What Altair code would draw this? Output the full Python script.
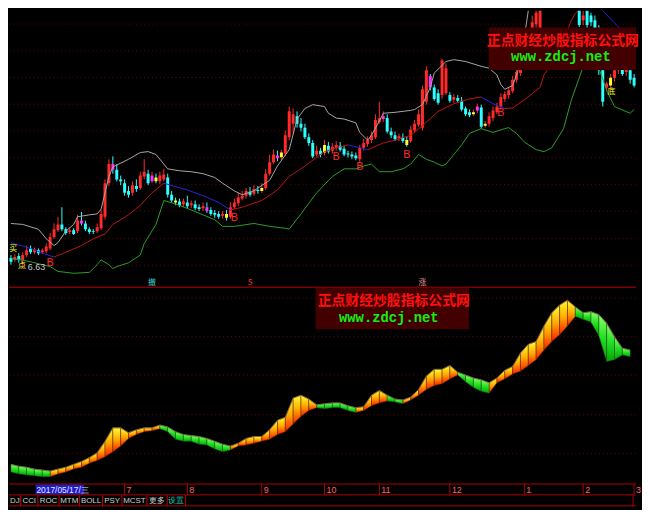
import altair as alt
import pandas as pd

# ---------------- layout ----------------
W = 634
H_TOP, H_BOT, H_DATE, H_BTN = 280, 198, 12, 11
N = 160
XDOM = [-0.5, N - 0.5]
PRICE_DOM = [6.22, 12.0]
IND_DOM = [-2, 100]

# ---------------- candles (price) ----------------
opens = [6.84, 6.80, 6.88, 6.80, 6.90, 7.04, 6.96, 7.00, 6.96, 6.98,
         7.04, 7.28, 7.42, 7.54, 7.44, 7.38, 7.42, 7.40, 7.62, 7.56,
         7.44, 7.40, 7.40, 7.46, 7.70, 8.40, 8.80, 8.68, 8.48, 8.40,
         8.24, 8.20, 8.34, 8.30, 8.54, 8.60, 8.44, 8.52, 8.44, 8.48,
         8.52, 8.16, 8.04, 8.02, 7.96, 8.00, 7.94, 7.96, 7.90, 7.88,
         7.90, 7.84, 7.78, 7.76, 7.72, 7.76, 7.70, 7.90, 7.98, 8.08,
         8.14, 8.22, 8.18, 8.26, 8.24, 8.30, 8.60, 8.84, 8.98, 8.94,
         9.02, 9.36, 9.64, 9.80, 9.64, 9.56, 9.36, 9.24, 9.00, 9.08,
         9.04, 9.18, 9.08, 9.14, 9.18, 9.12, 9.02, 9.00, 8.98, 8.90,
         9.14, 9.22, 9.30, 9.36, 9.68, 9.74, 9.76, 9.48, 9.40, 9.34,
         9.36, 9.30, 9.28, 9.50, 9.62, 9.56, 10.10, 10.64, 10.40, 10.28,
         10.24, 10.28, 10.24, 10.14, 10.18, 10.12, 9.96, 9.88, 9.84, 9.92,
         9.98, 9.60, 9.64, 9.76, 9.88, 10.00, 10.16, 10.24, 10.32, 10.56,
         10.70, 10.84, 11.04, 11.40, 11.72, 11.60, 12.30, 12.56, 12.80, 12.70,
         13.00, 12.90, 13.10, 12.80, 12.60, 12.50, 11.80, 12.00, 11.90, 11.80,
         11.60, 10.76, 10.40, 10.44, 10.60, 10.76, 10.80, 10.72, 10.76, 10.60]
closes = [6.76, 6.86, 6.80, 6.90, 7.00, 6.96, 7.02, 6.94, 7.00, 7.08,
          7.28, 7.44, 7.54, 7.44, 7.36, 7.42, 7.34, 7.62, 7.56, 7.44,
          7.38, 7.38, 7.48, 7.76, 8.40, 8.80, 8.68, 8.48, 8.44, 8.20,
          8.16, 8.36, 8.28, 8.56, 8.64, 8.40, 8.56, 8.44, 8.56, 8.58,
          8.16, 8.04, 8.00, 7.94, 8.02, 7.92, 7.98, 7.88, 7.86, 7.92,
          7.82, 7.76, 7.74, 7.70, 7.76, 7.68, 7.90, 8.00, 8.10, 8.14,
          8.24, 8.16, 8.28, 8.24, 8.30, 8.60, 8.84, 9.00, 8.92, 9.04,
          9.40, 9.90, 9.84, 9.64, 9.56, 9.36, 9.24, 8.96, 9.08, 9.00,
          9.20, 9.06, 9.16, 9.20, 9.10, 9.00, 9.00, 8.96, 8.92, 9.14,
          9.24, 9.30, 9.40, 9.72, 9.76, 9.80, 9.48, 9.40, 9.32, 9.38,
          9.28, 9.20, 9.52, 9.64, 9.84, 10.36, 10.76, 10.40, 10.16, 10.08,
          10.96, 10.80, 10.12, 10.20, 10.12, 9.94, 9.84, 9.82, 9.88, 10.00,
          9.58, 9.64, 9.80, 9.92, 10.00, 10.20, 10.26, 10.34, 10.56, 10.72,
          10.84, 11.00, 11.40, 11.76, 11.96, 12.40, 12.60, 12.80, 12.70, 13.00,
          12.90, 13.10, 12.80, 12.60, 12.70, 11.70, 11.90, 11.70, 11.76, 11.64,
          10.76, 10.10, 10.48, 10.60, 10.76, 10.84, 10.68, 10.80, 10.56, 10.44]
highs = [6.90, 6.92, 6.94, 6.96, 7.10, 7.10, 7.06, 7.04, 7.04, 7.14,
         7.36, 7.56, 7.70, 7.90, 7.48, 7.48, 7.46, 7.74, 7.80, 7.62,
         7.48, 7.44, 7.56, 7.84, 8.48, 8.90, 8.96, 8.80, 8.56, 8.48,
         8.34, 8.44, 8.48, 8.64, 8.90, 8.68, 8.64, 8.60, 8.64, 8.70,
         8.60, 8.24, 8.10, 8.08, 8.08, 8.14, 8.04, 8.04, 7.96, 8.00,
         8.00, 7.90, 7.84, 7.82, 7.82, 7.84, 8.00, 8.08, 8.20, 8.24,
         8.30, 8.32, 8.36, 8.34, 8.40, 8.70, 9.00, 9.10, 9.08, 9.10,
         9.50, 10.00, 9.96, 9.90, 9.76, 9.64, 9.44, 9.30, 9.18, 9.14,
         9.30, 9.26, 9.24, 9.28, 9.26, 9.18, 9.08, 9.06, 9.04, 9.20,
         9.32, 9.38, 9.48, 9.84, 10.10, 9.90, 9.84, 9.56, 9.48, 9.44,
         9.44, 9.38, 9.60, 9.72, 9.94, 10.44, 10.84, 10.68, 10.46, 10.36,
         11.00, 10.90, 10.30, 10.26, 10.24, 10.20, 10.00, 9.94, 9.94, 10.06,
         10.04, 9.70, 9.88, 10.00, 10.08, 10.28, 10.32, 10.40, 10.64, 10.80,
         10.90, 11.10, 11.60, 11.90, 12.20, 12.60, 12.80, 13.00, 12.96, 13.10,
         13.16, 13.24, 13.20, 12.90, 12.80, 12.60, 12.00, 12.10, 11.96, 11.90,
         11.70, 10.84, 10.52, 10.68, 10.84, 10.90, 10.86, 10.86, 10.80, 10.68]
lows = [6.70, 6.76, 6.74, 6.63, 6.86, 6.92, 6.92, 6.90, 6.92, 6.94,
        7.00, 7.24, 7.38, 7.40, 7.32, 7.34, 7.32, 7.36, 7.52, 7.40,
        7.34, 7.34, 7.36, 7.42, 7.64, 8.34, 8.60, 8.44, 8.36, 8.14,
        8.10, 8.14, 8.22, 8.26, 8.48, 8.36, 8.40, 8.40, 8.38, 8.44,
        8.10, 8.00, 7.94, 7.90, 7.90, 7.88, 7.88, 7.84, 7.82, 7.82,
        7.78, 7.72, 7.68, 7.66, 7.66, 7.62, 7.66, 7.86, 7.92, 8.04,
        8.08, 8.12, 8.14, 8.18, 8.20, 8.26, 8.56, 8.80, 8.86, 8.88,
        8.96, 9.30, 9.44, 9.56, 9.48, 9.32, 9.18, 8.92, 8.96, 8.94,
        8.98, 9.02, 9.02, 9.08, 9.06, 8.96, 8.94, 8.90, 8.88, 8.84,
        9.08, 9.16, 9.24, 9.32, 9.64, 9.68, 9.44, 9.34, 9.28, 9.28,
        9.24, 9.16, 9.24, 9.46, 9.58, 9.50, 10.04, 10.34, 10.12, 10.04,
        10.16, 10.24, 10.08, 10.08, 10.08, 9.90, 9.80, 9.78, 9.80, 9.86,
        9.54, 9.56, 9.58, 9.70, 9.84, 9.94, 10.10, 10.16, 10.28, 10.50,
        10.64, 10.76, 11.00, 11.34, 11.64, 11.56, 12.20, 12.50, 12.60, 12.60,
        12.80, 12.80, 12.70, 12.50, 12.50, 11.66, 11.70, 11.64, 11.68, 11.56,
        10.66, 10.00, 10.32, 10.36, 10.52, 10.68, 10.64, 10.64, 10.48, 10.40]

# signal-coloured candles (index, kind)
sig_idx = [18, 26, 36, 37, 42, 50, 55, 64, 68, 69, 80, 95, 101, 107, 118, 119, 121, 153]
sig_kind = ["mag", "mag", "mag", "yel", "yel", "mag", "yel", "yel", "mag", "yel",
            "yel", "mag", "yel", "mag", "yel", "mag", "yel", "yel"]

# Bollinger bands (index, price)
upper_band = [(0, 7.56), (3, 7.54), (7, 7.44), (9, 7.24), (11, 7.10), (12, 7.16), (14, 7.40),
              (16, 7.54), (17, 7.70), (20, 7.74), (22, 7.76), (23, 7.86), (25, 8.54), (26, 8.74),
              (30, 8.90), (33, 9.04), (35, 9.06), (37, 9.00), (39, 8.80), (40, 8.70), (43, 8.66),
              (46, 8.64), (49, 8.60), (52, 8.52), (54, 8.40), (57, 8.24), (59, 8.16), (62, 8.24),
              (63, 8.30), (66, 8.46), (68, 8.76), (71, 9.10), (73, 9.74), (75, 9.96), (77, 10.04),
              (80, 10.00), (81, 9.86), (83, 9.76), (85, 9.74), (88, 9.66), (89, 9.46), (91, 9.30),
              (92, 9.40), (94, 9.70), (95, 9.86), (98, 9.88), (102, 9.92), (103, 9.94), (105, 10.04),
              (107, 10.40), (108, 10.70), (111, 10.94), (113, 10.98), (116, 10.94), (120, 10.84),
              (122, 10.80), (124, 10.66), (125, 10.46), (126, 10.36), (128, 10.44), (129, 10.66),
              (130, 10.90), (132, 12.00), (134, 12.80), (140, 13.60), (150, 13.80), (159, 13.40)]
middle_band = [(0, 7.16), (5, 7.04), (8, 6.94), (11, 6.86), (14, 6.96), (18, 7.10), (21, 7.24),
               (24, 7.34), (26, 7.54), (30, 7.74), (33, 7.94), (36, 8.20), (39, 8.40), (45, 8.26),
               (49, 8.14), (53, 8.00), (56, 7.84), (59, 7.90), (64, 8.04), (68, 8.26), (71, 8.54),
               (75, 8.76), (78, 8.94), (80, 9.06), (84, 9.16), (86, 9.20), (89, 9.14), (91, 9.10),
               (95, 9.24), (98, 9.30), (102, 9.40), (105, 9.60), (109, 9.90), (113, 10.06),
               (117, 10.16), (120, 10.20), (123, 10.06), (126, 9.96), (128, 9.97), (131, 10.14),
               (135, 10.40), (136, 10.66), (138, 10.90), (141, 11.40), (143, 11.80), (144, 11.94),
               (148, 12.30), (151, 12.00), (155, 11.66), (159, 11.36)]
lower_band = [(0, 6.84), (5, 6.76), (10, 6.66), (12, 6.56), (16, 6.52), (20, 6.54), (22, 6.70),
              (23, 6.80), (25, 6.70), (26, 6.62), (27, 6.66), (30, 6.74), (33, 6.90), (34, 7.14),
              (37, 7.54), (39, 8.04), (43, 7.94), (46, 7.84), (49, 7.74), (52, 7.64), (54, 7.50),
              (57, 7.50), (62, 7.56), (66, 7.50), (70, 7.46), (71, 7.44), (74, 7.76), (78, 8.20),
              (82, 8.54), (85, 8.70), (88, 8.70), (90, 8.76), (92, 8.80), (94, 8.64), (97, 8.64),
              (100, 8.70), (102, 8.80), (104, 9.00), (106, 8.90), (108, 8.84), (110, 8.76),
              (111, 8.80), (113, 9.00), (115, 9.20), (117, 9.44), (120, 9.54), (123, 9.46),
              (126, 9.54), (127, 9.56), (129, 9.44), (131, 9.26), (134, 9.10), (136, 9.06),
              (138, 9.14), (141, 9.54), (143, 10.14), (145, 10.60), (146, 10.84), (148, 11.20),
              (150, 10.80), (152, 10.34), (154, 10.00), (158, 9.86), (159, 9.94)]

# "B" buy markers (index, price)
b_idx = [10, 57, 83, 89, 101, 125]
b_price = [6.74, 7.68, 8.94, 8.74, 8.98, 9.86]
low_label = "6.63"
# small signal glyphs (index, price, text, kind)
glyphs = [(0.6, 7.02, "买", "yel"), (2.8, 6.68, "点", "yel"), (153.2, 10.30, "底", "yel"),
          (36, 6.32, "撤", "cya"), (61, 6.32, "S", "red"), (105, 6.32, "涨", "pnk")]

# grid levels
grid_top = [11.74, 11.18, 10.62, 10.06, 9.50, 8.94, 8.38, 7.82, 7.26, 6.70]
grid_bot = [14, 34, 54.5, 75, 95]

# ---------------- lower indicator (every 2nd bar) ----------------
ind_idx = list(range(0, 160, 2))
ind_top = [8, 7, 6.5, 5.5, 5, 4.5, 5.5, 6.5, 8, 9.5,
           11.5, 14, 20, 27, 27, 24.5, 26, 27, 27, 28.5,
           27.5, 25, 23.5, 23, 22.5, 21.5, 20, 18.5, 17.5, 19,
           21.5, 22.5, 22.5, 26, 31, 32.5, 42.5, 44, 42, 39,
           39.5, 40, 40, 38.5, 37.5, 38, 44, 46.5, 44, 42,
           41.5, 43, 47, 54, 57.5, 57.5, 59.5, 56, 54.5, 53,
           52, 50.5, 53, 57, 59, 66, 70.5, 72, 80, 87,
           91, 93.5, 90, 87, 87.5, 86, 81.5, 74.5, 68.5, 67.5]
ind_bot = [4, 3, 2.5, 2, 1.5, 1.5, 3, 4, 5.5, 6.5,
           8.5, 10, 12, 14.5, 17.5, 21.5, 23.5, 25, 25.5, 26.5,
           25, 21, 20, 20, 18.5, 18, 16, 14.5, 15.5, 17.5,
           18, 19, 20, 21, 23.5, 25, 29, 33, 36, 37.5,
           37, 37.5, 37.5, 36, 35, 36, 38.5, 40, 41, 40.5,
           39.5, 41.5, 44, 47, 49, 50, 52.5, 54.5, 51, 48,
           46, 45, 50.5, 52.5, 55, 56.5, 59.5, 62.5, 67.5, 72,
           75.5, 80, 85, 83.5, 82, 75, 61.5, 62.5, 65, 64]
ind_dir = "".join(["GGGGGG", "OOOOOOOOOOOOOO", "GGGGGGGGG", "OOOOOOOOOOO", "GGGGG",
                   "OOOO", "GG", "OOOOOOO", "GGGG", "OOOOOOOOOOO", "GGGGGGG"])

# ---------------- axis texts ----------------
month_idx = [29, 45, 64, 80, 94, 112, 131, 146, 159]
month_lab = ["7", "8", "9", "10", "11", "12", "1", "2", "3"]
cursor_date = "2017/05/17/三"
buttons = ["DJ", "CCI", "ROC", "MTM", "BOLL", "PSY", "MCST", "更多", "设置"]
BUTTON_W = [12, 18, 22, 21, 24, 20, 26, 21, 19]
WM_CN = "正点财经炒股指标公式网"
WM_URL = "www.zdcj.net"

# ================= build =================
df = pd.DataFrame({"i": list(range(N)), "o": opens, "c": closes, "h": highs, "l": lows})
df["d"] = ["up" if c >= o else "dn" for o, c in zip(opens, closes)]
kind = dict(zip(sig_idx, sig_kind))
df["k"] = [kind.get(i, d) for i, d in zip(df["i"], df["d"])]
df["x0"] = df["i"] - 0.38
df["x1"] = df["i"] + 0.38

xs = alt.Scale(domain=XDOM, nice=False, zero=False)
ys = alt.Scale(domain=PRICE_DOM, nice=False, zero=False)
yax = alt.Axis(values=grid_top, grid=True, gridColor="#6e0000", gridDash=[1, 3], gridWidth=1,
               labels=False, ticks=False, domain=False, title=None)
cscale = alt.Scale(domain=["up", "dn", "yel", "mag", "cya", "red", "pnk"],
                   range=["#ff2a2a", "#2cffff", "#ffff30", "#ff30ff", "#40c8c8", "#ff3030", "#e09090"])
one = pd.DataFrame({"a": [0]})

wick = alt.Chart(df).mark_rule(strokeWidth=1, clip=True).encode(
    x=alt.X("i:Q", scale=xs, axis=None),
    y=alt.Y("l:Q", scale=ys, axis=yax), y2="h:Q",
    color=alt.Color("d:N", scale=cscale, legend=None))
body = alt.Chart(df).mark_rect(clip=True).encode(
    x=alt.X("x0:Q", scale=xs, axis=None), x2="x1:Q",
    y=alt.Y("o:Q", scale=ys, axis=yax), y2="c:Q",
    color=alt.Color("k:N", scale=cscale, legend=None))


def band_line(pairs, color):
    d = pd.DataFrame(pairs, columns=["i", "v"])
    return alt.Chart(d).mark_line(clip=True, strokeWidth=1, color=color).encode(
        x=alt.X("i:Q", scale=xs, axis=None), y=alt.Y("v:Q", scale=ys, axis=yax))


rows = []
for k in range(len(middle_band) - 1):
    (i0, v0), (i1, v1) = middle_band[k], middle_band[k + 1]
    d = "r" if v1 >= v0 else "b"
    rows += [{"seg": k, "i": i0, "v": v0, "d": d}, {"seg": k, "i": i1, "v": v1, "d": d}]
mid_df = pd.DataFrame(rows)


def mid_layer(dirn, color):
    return alt.Chart(mid_df).transform_filter(alt.datum.d == dirn).mark_line(
        clip=True, strokeWidth=1, color=color).encode(
        x=alt.X("i:Q", scale=xs, axis=None), y=alt.Y("v:Q", scale=ys, axis=yax),
        detail="seg:N")


bdf = pd.DataFrame({"i": b_idx, "p": b_price, "t": ["B"] * len(b_idx)})
b_text = alt.Chart(bdf).mark_text(color="#ff2a2a", fontSize=11, font="Liberation Sans").encode(
    x=alt.X("i:Q", scale=xs, axis=None), y=alt.Y("p:Q", scale=ys, axis=yax), text="t:N")

low_df = pd.DataFrame({"i": [4.3], "p": [6.66], "t": [low_label]})
low_text = alt.Chart(low_df).mark_text(color="#c8c8c8", fontSize=9, align="left",
                                       font="Liberation Sans").encode(
    x=alt.X("i:Q", scale=xs, axis=None), y=alt.Y("p:Q", scale=ys, axis=yax), text="t:N")

gdf = pd.DataFrame(glyphs, columns=["i", "p", "t", "k"])
g_text = alt.Chart(gdf).mark_text(fontSize=8, font="Noto Sans CJK SC").encode(
    x=alt.X("i:Q", scale=xs, axis=None), y=alt.Y("p:Q", scale=ys, axis=yax), text="t:N",
    color=alt.Color("k:N", scale=cscale, legend=None))

sep = alt.Chart(one).mark_rule(color="#c00000", strokeWidth=1).encode(
    x=alt.value(0), x2=alt.value(W), y=alt.value(H_TOP - 0.5))

wm1_box = alt.Chart(one).mark_rect(color="#420000").encode(
    x=alt.value(485), x2=alt.value(W), y=alt.value(17), y2=alt.value(60))
wm1_cn = alt.Chart(one).mark_text(text=WM_CN, color="#ff1010", fontSize=14,
                                  font="Noto Sans CJK SC", fontWeight="bold").encode(
    x=alt.value(560), y=alt.value(31))
wm1_url = alt.Chart(one).mark_text(text=WM_URL, color="#10f010", fontSize=14,
                                   font="Liberation Mono", fontWeight="bold").encode(
    x=alt.value(558), y=alt.value(47))

top = alt.layer(
    wick, body,
    band_line(upper_band, "#a8a8a8"),
    mid_layer("r", "#c01414"), mid_layer("b", "#2424e0"),
    band_line(lower_band, "#2aa02a"),
    b_text, low_text, g_text, sep, wm1_box, wm1_cn, wm1_url,
).properties(width=W, height=H_TOP)

# ---------------- indicator panel ----------------
seg_rows = []
for k in range(len(ind_idx) - 1):
    d = ind_dir[k + 1]
    for j in (k, k + 1):
        seg_rows.append({"seg": k, "i": ind_idx[j], "t": ind_top[j], "b": ind_bot[j], "d": d})
ind_seg = pd.DataFrame(seg_rows)
ind = pd.DataFrame({"i": ind_idx, "t": ind_top, "b": ind_bot})

vs = alt.Scale(domain=IND_DOM, nice=False, zero=False)
vax = alt.Axis(values=grid_bot, grid=True, gridColor="#6e0000", gridDash=[1, 3], gridWidth=1,
               labels=False, ticks=False, domain=False, title=None)

grad_o = alt.Gradient(gradient="linear", x1=0, x2=0, y1=0, y2=1,
                      stops=[alt.GradientStop(color="#ffff30", offset=0),
                             alt.GradientStop(color="#ffa800", offset=0.5),
                             alt.GradientStop(color="#ff1a00", offset=1)])
grad_g = alt.Gradient(gradient="linear", x1=0, x2=0, y1=0, y2=1,
                      stops=[alt.GradientStop(color="#8cff6a", offset=0),
                             alt.GradientStop(color="#22e022", offset=0.5),
                             alt.GradientStop(color="#00a800", offset=1)])


def ind_layer(dirn, grad, stroke):
    return alt.Chart(ind_seg).transform_filter(alt.datum.d == dirn).mark_area(
        color=grad, stroke=stroke, strokeWidth=0.6, strokeOpacity=0.85).encode(
        x=alt.X("i:Q", scale=xs, axis=None),
        y=alt.Y("t:Q", scale=vs, axis=vax), y2="b:Q", detail="seg:N")


edge = alt.Chart(ind).mark_line(color="#8a7050", strokeWidth=0.8).encode(
    x=alt.X("i:Q", scale=xs, axis=None), y=alt.Y("t:Q", scale=vs, axis=vax))

wm2_box = alt.Chart(one).mark_rect(color="#420000").encode(
    x=alt.value(310), x2=alt.value(465), y=alt.value(0), y2=alt.value(42))
wm2_cn = alt.Chart(one).mark_text(text=WM_CN, color="#ff1010", fontSize=14,
                                  font="Noto Sans CJK SC", fontWeight="bold").encode(
    x=alt.value(389), y=alt.value(14))
wm2_url = alt.Chart(one).mark_text(text=WM_URL, color="#10f010", fontSize=14,
                                   font="Liberation Mono", fontWeight="bold").encode(
    x=alt.value(384), y=alt.value(31))

bottom = alt.layer(ind_layer("O", grad_o, "#5a2800"), ind_layer("G", grad_g, "#1a4a1a"), edge,
                   wm2_box, wm2_cn, wm2_url).properties(width=W, height=H_BOT)

# ---------------- date row ----------------
mdf = pd.DataFrame({"i": month_idx, "t": month_lab})
frame_d = alt.Chart(pd.DataFrame({"y": [0.5, H_DATE - 0.5]})).mark_rule(color="#b00000").encode(
    x=alt.value(0), x2=alt.value(W), y=alt.Y("y:Q", scale=None))
mrules = alt.Chart(mdf).mark_rule(color="#b00000").encode(
    x=alt.X("i:Q", scale=xs, axis=None), y=alt.value(0), y2=alt.value(H_DATE))
mtext = alt.Chart(mdf).mark_text(color="#ff6060", fontSize=9, align="left", dx=2,
                                 font="Liberation Sans").encode(
    x=alt.X("i:Q", scale=xs, axis=None), y=alt.value(H_DATE / 2 + 0.5), text="t:N")
cur_box = alt.Chart(pd.DataFrame({"a": [6.3], "b": [18.6]})).mark_rect(color="#1c1cc8").encode(
    x=alt.X("a:Q", scale=xs, axis=None), x2="b:Q", y=alt.value(1), y2=alt.value(H_DATE - 1))
cur_text = alt.Chart(pd.DataFrame({"a": [6.5], "t": [cursor_date]})).mark_text(
    color="#e8e8ff", fontSize=8.5, align="left", font="Liberation Sans").encode(
    x=alt.X("a:Q", scale=xs, axis=None), y=alt.value(H_DATE / 2 + 0.5), text="t:N")
date_row = alt.layer(cur_box, frame_d, mrules, mtext, cur_text).properties(width=W, height=H_DATE)

# ---------------- button row ----------------
ends, acc = [], 0
for w in BUTTON_W:
    acc += w
    ends.append(acc)
starts = [e - w for e, w in zip(ends, BUTTON_W)]
btn = pd.DataFrame({"lab": buttons, "x0": starts, "x1": ends})
btn["xm"] = (btn["x0"] + btn["x1"]) / 2
bx = alt.Scale(domain=[0, 650], nice=False, zero=False)
bsep = alt.Chart(btn).mark_rule(color="#c00000", strokeWidth=1).encode(
    x=alt.X("x1:Q", scale=bx, axis=None), y=alt.value(0), y2=alt.value(H_BTN))
btxt = alt.Chart(btn).mark_text(fontSize=8, font="Liberation Sans").encode(
    x=alt.X("xm:Q", scale=bx, axis=None), y=alt.value(H_BTN / 2 + 0.5), text="lab:N",
    color=alt.condition(alt.datum.lab == "设置", alt.value("#20c8b0"), alt.value("#d0d0d0")))
bframe = alt.Chart(one).mark_rule(color="#b00000").encode(
    x=alt.value(0), x2=alt.value(W), y=alt.value(H_BTN - 0.5))
bend = alt.Chart(one).mark_rule(color="#b00000").encode(
    x=alt.value(W - 3), y=alt.value(0), y2=alt.value(H_BTN))
btn_row = alt.layer(bsep, bframe, bend, btxt).properties(width=W, height=H_BTN)

chart = alt.vconcat(top, bottom, date_row, btn_row, spacing=0, bounds="flush",
                    padding=0, background="#000000").configure_view(stroke=None)

chart.save("out.html", embed_options={"renderer": "svg", "actions": False})
